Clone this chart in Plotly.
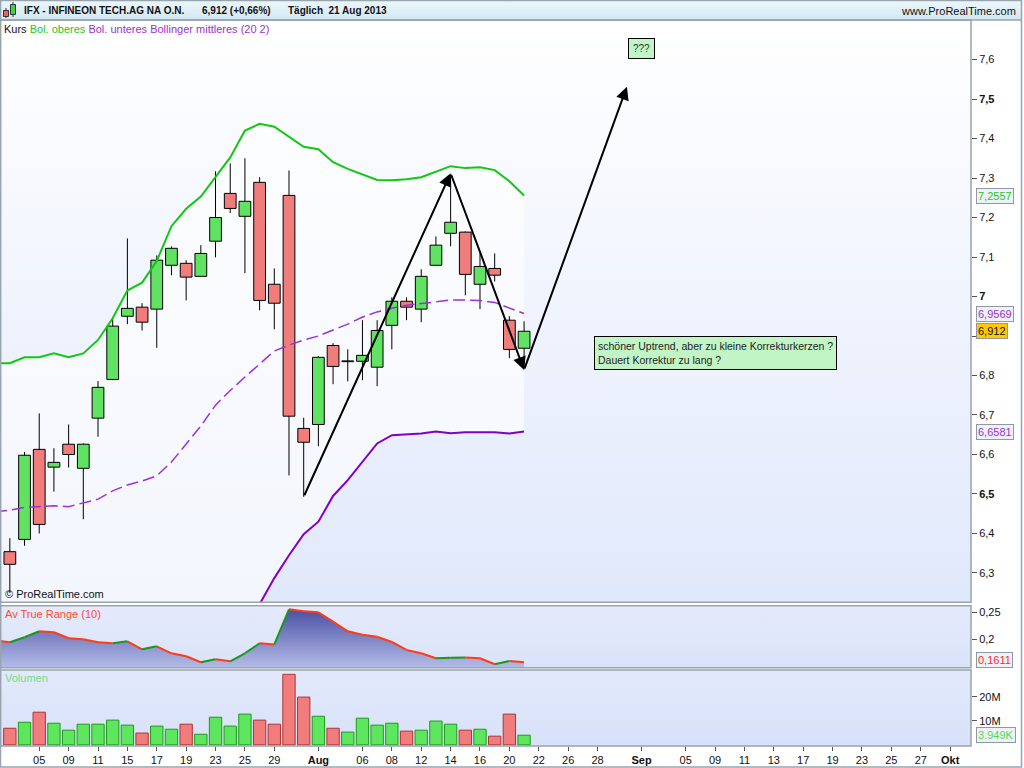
import base64
import pandas as pd
import plotly.graph_objects as go

# ------------------------------------------------------------------ data
candle_dates = pd.bdate_range("2013-07-03", "2013-08-21")
open_ = [6.354, 6.385, 6.613, 6.568, 6.626, 6.565, 6.692, 6.790, 6.950, 6.973,
         6.968, 7.079, 7.084, 7.051, 7.140, 7.261, 7.203, 7.289, 7.031, 7.256,
         6.666, 6.676, 6.876, 6.835, 6.836, 6.821, 6.927, 6.988, 6.968, 7.079,
         7.160, 7.163, 7.031, 7.071, 6.940, 6.869]
high = [6.388, 6.606, 6.704, 6.616, 6.676, 6.628, 6.786, 6.945, 7.147, 6.983,
        7.104, 7.127, 7.092, 7.130, 7.317, 7.337, 7.350, 7.302, 7.071, 7.319,
        6.693, 6.849, 6.882, 6.866, 6.940, 6.940, 6.998, 6.998, 7.069, 7.152,
        7.308, 7.165, 7.109, 7.109, 6.950, 6.937]
low = [6.250, 6.369, 6.400, 6.506, 6.567, 6.436, 6.645, 6.788, 6.930, 6.914,
       6.870, 7.054, 6.990, 7.051, 7.099, 7.211, 7.059, 6.965, 6.917, 6.547,
       6.493, 6.621, 6.778, 6.785, 6.788, 6.773, 6.866, 6.940, 6.935, 7.079,
       7.127, 7.003, 6.968, 7.038, 6.844, 6.816]
close = [6.322, 6.598, 6.423, 6.580, 6.600, 6.626, 6.770, 6.925, 6.970, 6.935,
         7.092, 7.122, 7.049, 7.109, 7.200, 7.223, 7.241, 6.990, 6.983, 6.697,
         6.631, 6.846, 6.823, 6.837, 6.851, 6.914, 6.988, 6.973, 7.051, 7.130,
         7.188, 7.056, 7.076, 7.054, 6.866, 6.912]
volume_m = [6.9, 9.4, 13.6, 9.0, 6.1, 8.6, 8.6, 10.3, 8.2, 4.9,
            7.8, 6.5, 8.6, 4.4, 11.5, 7.8, 12.8, 10.3, 8.6, 29.4,
            19.9, 11.9, 6.9, 5.3, 11.1, 8.2, 9.0, 5.7, 6.1, 9.9,
            8.6, 6.1, 6.5, 3.6, 12.8, 4.0]

line_dates = pd.bdate_range("2013-07-02", "2013-08-21")
atr = [0.198, 0.1944, 0.2037, 0.2148, 0.2130, 0.2019, 0.2000, 0.1944, 0.1926, 0.1963,
       0.1815, 0.1870, 0.1741, 0.1685, 0.1574, 0.1630, 0.1593, 0.1741, 0.1926, 0.1904,
       0.2556, 0.2519, 0.2500, 0.2326, 0.2148, 0.2085, 0.2048, 0.1950, 0.1802, 0.1741,
       0.1648, 0.1660, 0.1662, 0.1648, 0.1537, 0.1598, 0.1575]
bb_upper = [6.831, 6.831, 6.846, 6.846, 6.856, 6.846, 6.856, 6.890, 6.945, 7.015,
            7.035, 7.090, 7.178, 7.222, 7.253, 7.302, 7.352, 7.420, 7.437, 7.430,
            7.405, 7.379, 7.373, 7.340, 7.323, 7.309, 7.295, 7.294, 7.297, 7.302,
            7.317, 7.330, 7.325, 7.327, 7.320, 7.292, 7.2557]
bb_middle = [6.455, 6.459, 6.466, 6.468, 6.470, 6.468, 6.477, 6.487, 6.508, 6.523,
             6.533, 6.546, 6.581, 6.627, 6.672, 6.725, 6.762, 6.796, 6.829, 6.862,
             6.877, 6.890, 6.900, 6.915, 6.930, 6.948, 6.961, 6.970, 6.978, 6.982,
             6.986, 6.991, 6.991, 6.990, 6.985, 6.971, 6.9569]
bb_lower = [6.079, 6.087, 6.086, 6.090, 6.084, 6.090, 6.098, 6.084, 6.071, 6.031,
            6.031, 6.002, 5.984, 6.032, 6.091, 6.148, 6.172, 6.172, 6.221, 6.287,
            6.345, 6.398, 6.430, 6.495, 6.535, 6.581, 6.628, 6.649, 6.651, 6.653,
            6.658, 6.654, 6.656, 6.656, 6.656, 6.653, 6.6581]

tick_dates = ["2013-07-05", "2013-07-09", "2013-07-11", "2013-07-15", "2013-07-17",
              "2013-07-19", "2013-07-23", "2013-07-25", "2013-07-29", "2013-08-01",
              "2013-08-06", "2013-08-08", "2013-08-12", "2013-08-14", "2013-08-16",
              "2013-08-20", "2013-08-22", "2013-08-26", "2013-08-28", "2013-09-02",
              "2013-09-05", "2013-09-09", "2013-09-11", "2013-09-13", "2013-09-17",
              "2013-09-19", "2013-09-23", "2013-09-25", "2013-09-27", "2013-10-01"]
tick_text = ["05", "09", "11", "15", "17", "19", "23", "25", "29", "<b>Aug</b>",
             "06", "08", "12", "14", "16", "20", "22", "26", "28", "<b>Sep</b>",
             "05", "09", "11", "13", "17", "19", "23", "25", "27", "<b>Okt</b>"]
price_ticks = [6.3, 6.4, 6.5, 6.6, 6.7, 6.8, 6.9, 7.0, 7.1, 7.2, 7.3, 7.4, 7.5, 7.6]
# the 6,9 label is hidden behind the last-price box in the reference
price_tick_text = ["6,3", "6,4", "<b>6,5</b>", "6,6", "6,7", "6,8", "", "<b>7</b>",
                   "7,1", "7,2", "7,3", "7,4", "<b>7,5</b>", "7,6"]
atr_ticks = [0.2, 0.25]
atr_tick_text = ["0,2", "0,25"]
vol_ticks = [10, 20]
vol_tick_text = ["10M", "20M"]

trend_path = [("2013-07-31", 6.493), ("2013-08-14", 7.312),
              ("2013-08-21", 6.814), ("2013-08-30", 7.531)]

# ------------------------------------------------------------------ helpers
calendar = pd.bdate_range("2013-07-02", "2013-10-01")
pos = {d: i - 1 for i, d in enumerate(calendar)}
xc = [pos[d] for d in candle_dates]
xl = [pos[d] for d in line_dates]
xt = [pos[pd.Timestamp(d)] for d in tick_dates]

FONT = "Liberation Sans, Arial, sans-serif"
W, H = 1024, 768
ML, MR, MT, MB = 0, 53, 20, 22
PW, PH = W - ML - MR, H - MT - MB
XR = [-0.67, 65.42]
YR = [6.2258, 7.700]
ATR_R = [0.1474, 0.2622]
VOL_R = [-0.5, 31.2]


def py(y):
    return (H - MB - y) / PH


def px(x):
    return x / PW


def grad(top, bottom):
    svg = ('<svg xmlns="http://www.w3.org/2000/svg" width="100" height="100" '
           'viewBox="0 0 100 100" preserveAspectRatio="none"><defs>'
           '<linearGradient id="g" x1="0" y1="0" x2="0" y2="1">'
           f'<stop offset="0" stop-color="{top}"/><stop offset="1" stop-color="{bottom}"/>'
           '</linearGradient></defs><rect width="100" height="100" fill="url(#g)"/></svg>')
    return "data:image/svg+xml;base64," + base64.b64encode(svg.encode()).decode()


fig = go.Figure()

# band fill (base subplot, below candles)
fig.add_trace(go.Scatter(x=xl, y=bb_upper, mode="lines", line=dict(width=0),
                         hoverinfo="skip", xaxis="x", yaxis="y"))
fig.add_trace(go.Scatter(x=xl, y=bb_lower, mode="lines", line=dict(width=0),
                         fill="tonexty", fillcolor="rgba(255,255,255,0.6)",
                         hoverinfo="skip", xaxis="x", yaxis="y"))
# wicks
wx, wy = [], []
for x, lo, hi in zip(xc, low, high):
    wx += [x, x, None]
    wy += [lo, hi, None]
fig.add_trace(go.Scatter(x=wx, y=wy, mode="lines", line=dict(color="black", width=1),
                         hoverinfo="skip", xaxis="x", yaxis="y"))

# candle bodies (overlay subplot)
body_base = [min(o, c) for o, c in zip(open_, close)]
body_h = [max(abs(c - o), 0.0015) for o, c in zip(open_, close)]
body_col = ["#62e262" if c >= o else "#f07c7c" for o, c in zip(open_, close)]
fig.add_trace(go.Bar(x=xc, y=body_h, base=body_base, width=0.8,
                     marker=dict(color=body_col, line=dict(color="black", width=1)),
                     hoverinfo="skip", xaxis="x", yaxis="y4"))
# Bollinger lines
fig.add_trace(go.Scatter(x=xl, y=bb_upper, mode="lines", line=dict(color="#10c810", width=2),
                         hoverinfo="skip", xaxis="x", yaxis="y4"))
fig.add_trace(go.Scatter(x=xl, y=bb_lower, mode="lines", line=dict(color="#8000c8", width=2),
                         hoverinfo="skip", xaxis="x", yaxis="y4"))
fig.add_trace(go.Scatter(x=xl, y=bb_middle, mode="lines",
                         line=dict(color="#9a30e0", width=1.5, dash="12px,5px"),
                         hoverinfo="skip", xaxis="x", yaxis="y4"))

# ATR
fig.add_trace(go.Scatter(x=xl, y=atr, mode="lines", line=dict(width=0), fill="tozeroy",
                         fillgradient=dict(type="vertical", start=ATR_R[0], stop=0.2556,
                                           colorscale=[[0, "#b4bce8"], [1, "#4a50a4"]]),
                         hoverinfo="skip", xaxis="x", yaxis="y2"))
ux, uy, dx_, dy_ = [], [], [], []
for k in range(len(atr) - 1):
    sx, sy = [xl[k], xl[k + 1], None], [atr[k], atr[k + 1], None]
    if atr[k + 1] >= atr[k]:
        ux += sx
        uy += sy
    else:
        dx_ += sx
        dy_ += sy
fig.add_trace(go.Scatter(x=dx_, y=dy_, mode="lines", line=dict(color="#ff3c14", width=2),
                         hoverinfo="skip", xaxis="x", yaxis="y2"))
fig.add_trace(go.Scatter(x=ux, y=uy, mode="lines", line=dict(color="#1e961e", width=2),
                         hoverinfo="skip", xaxis="x", yaxis="y2"))

# Volume
vol_up = [close[i] >= (close[i - 1] if i > 0 else open_[0]) for i in range(len(close))]
fig.add_trace(go.Bar(x=xc, y=volume_m, width=0.84,
                     marker=dict(color=["#5ee65e" if u else "#f07c7c" for u in vol_up],
                                 line=dict(color=["#1e9a1e" if u else "#b03434" for u in vol_up],
                                           width=1)),
                     hoverinfo="skip", xaxis="x", yaxis="y3"))

# ------------------------------------------------------------------ layout
axis_common = dict(showgrid=False, zeroline=False, showline=False, ticks="outside",
                   ticklen=5, tickcolor="#555", tickfont=dict(family=FONT, size=11, color="#111"))

d_price = [py(602.3), 1.0]
d_atr = [py(667.7), py(605.7)]
d_vol = [0.0, py(670)]

fig.update_layout(
    width=W, height=H, margin=dict(l=ML, r=MR, t=MT, b=MB),
    paper_bgcolor="white", plot_bgcolor="rgba(0,0,0,0)",
    showlegend=False, hovermode=False, barmode="overlay",
    font=dict(family=FONT, size=11, color="#111"),
    xaxis=dict(range=XR, anchor="y3", tickvals=xt, ticktext=tick_text, showgrid=False,
               zeroline=False, showline=False, ticks="outside", ticklen=4, tickcolor="#555",
               tickfont=dict(family=FONT, size=11, color="#111")),
    yaxis=dict(domain=d_price, range=YR, side="right", anchor="x",
               tickvals=price_ticks, ticktext=price_tick_text, **axis_common),
    yaxis4=dict(range=YR, overlaying="y", anchor="x", visible=False),
    yaxis2=dict(domain=d_atr, range=ATR_R, side="right", anchor="x",
                tickvals=atr_ticks, ticktext=atr_tick_text, **axis_common),
    yaxis3=dict(domain=d_vol, range=VOL_R, side="right", anchor="x",
                tickvals=vol_ticks, ticktext=vol_tick_text, **axis_common),
)

images = [
    dict(source=grad("#ffffff", "#e0e8fb"), xref="x", yref="y", x=XR[0], y=YR[1],
         sizex=XR[1] - XR[0], sizey=YR[1] - YR[0], xanchor="left", yanchor="top",
         sizing="stretch", layer="below"),
    dict(source=grad("#e4eafb", "#dbe3f9"), xref="x", yref="y2", x=XR[0], y=ATR_R[1],
         sizex=XR[1] - XR[0], sizey=ATR_R[1] - ATR_R[0], xanchor="left", yanchor="top",
         sizing="stretch", layer="below"),
    dict(source=grad("#e2e9fb", "#d8e1f9"), xref="x", yref="y3", x=XR[0], y=VOL_R[1],
         sizex=XR[1] - XR[0], sizey=VOL_R[1] - VOL_R[0], xanchor="left", yanchor="top",
         sizing="stretch", layer="below"),
    dict(source=grad("#eef8fc", "#d2e7f1"), xref="paper", yref="paper", x=0, y=py(0),
         sizex=px(1022), sizey=py(0) - py(20), xanchor="left", yanchor="top",
         sizing="stretch", layer="below"),
]
fig.update_layout(images=images)

BORDER = "#98a4b0"
shapes = [
    dict(type="rect", xref="paper", yref="paper", x0=px(0.5), x1=px(1021.5), y0=py(767), y1=py(0.5),
         line=dict(color=BORDER, width=1.5), fillcolor="rgba(0,0,0,0)"),
    dict(type="line", xref="paper", yref="paper", x0=0, x1=px(1022), y0=py(20), y1=py(20),
         line=dict(color=BORDER, width=1.5)),
    dict(type="rect", xref="paper", yref="y domain", x0=px(0.5), x1=1, y0=0, y1=1,
         line=dict(color=BORDER, width=1.5)),
    dict(type="rect", xref="paper", yref="y2 domain", x0=px(0.5), x1=1, y0=0, y1=1,
         line=dict(color=BORDER, width=1.5)),
    dict(type="rect", xref="paper", yref="y3 domain", x0=px(0.5), x1=1, y0=0, y1=1,
         line=dict(color=BORDER, width=1.5)),
    # header icon
    dict(type="line", xref="paper", yref="paper", x0=px(6), x1=px(6), y0=py(18), y1=py(8),
         line=dict(color="#333", width=1)),
    dict(type="rect", xref="paper", yref="paper", x0=px(3.5), x1=px(8.5), y0=py(16.5), y1=py(10.5),
         fillcolor="#e86464", line=dict(color="#333", width=1)),
    dict(type="line", xref="paper", yref="paper", x0=px(13), x1=px(13), y0=py(17), y1=py(2),
         line=dict(color="#333", width=1)),
    dict(type="rect", xref="paper", yref="paper", x0=px(10.5), x1=px(15.5), y0=py(14.5), y1=py(4.5),
         fillcolor="#44d044", line=dict(color="#333", width=1)),
]
fig.update_layout(shapes=shapes)

ann = []
hdr_y = py(11)
for txt, x in [("IFX - INFINEON TECH.AG NA O.N.", 22), ("6,912 (+0,66%)", 200),
               ("Täglich  21 Aug 2013", 286)]:
    ann.append(dict(text=f"<b>{txt}</b>", xref="paper", yref="paper", x=px(x), y=hdr_y,
                    xanchor="left", yanchor="middle", showarrow=False,
                    font=dict(family=FONT, size=10, color="#111")))
ann.append(dict(text="www.ProRealTime.com", xref="paper", yref="paper", x=px(1018), y=hdr_y,
                xanchor="right", yanchor="middle", showarrow=False,
                font=dict(family=FONT, size=11, color="#111")))
ann.append(dict(text="Kurs <span style='color:#22c822'>Bol. oberes</span> "
                     "<span style='color:#9933cc'>Bol. unteres Bollinger mittleres (20 2)</span>",
                xref="paper", yref="paper", x=px(2), y=py(29), xanchor="left", yanchor="middle",
                showarrow=False, font=dict(family=FONT, size=11, color="#111")))
ann.append(dict(text="© ProRealTime.com", xref="paper", yref="y domain", x=px(3), y=0,
                xanchor="left", yanchor="bottom", showarrow=False,
                font=dict(family=FONT, size=11, color="#111")))
ann.append(dict(text="Av True Range (10)", xref="paper", yref="y2 domain", x=px(3), y=1,
                xanchor="left", yanchor="top", showarrow=False,
                font=dict(family=FONT, size=11, color="#ff4a34")))
ann.append(dict(text="Volumen", xref="paper", yref="y3 domain", x=px(3), y=1,
                xanchor="left", yanchor="top", showarrow=False,
                font=dict(family=FONT, size=11, color="#6ede88")))

# value boxes on the right
for txt, yref, yv, col, bg in [
    ("7,2557", "y", bb_upper[-1], "#22c822", "#eef2f8"),
    ("6,9569", "y", bb_middle[-1], "#9933cc", "#eef2f8"),
    ("6,912", "y", close[-1], "#111", "#ffc800"),
    ("6,6581", "y", bb_lower[-1], "#9933cc", "#eef2f8"),
    ("0,1611", "y2", 0.1611, "#ff2a2a", "#eef2f8"),
    ("3.949K", "y3", volume_m[-1], "#55d855", "#eef2f8"),
]:
    ann.append(dict(text=txt, xref="paper", yref=yref, x=1, y=yv, xanchor="left",
                    yanchor="middle", xshift=5, showarrow=False, bgcolor=bg,
                    bordercolor="#8e99a4", borderwidth=1, borderpad=1,
                    font=dict(family=FONT, size=11, color=col)))

# hand drawn trend arrows
for (d0, v0), (d1, v1) in zip(trend_path[:-1], trend_path[1:]):
    ann.append(dict(text="", x=pos[pd.Timestamp(d1)], y=v1, ax=pos[pd.Timestamp(d0)], ay=v0,
                    xref="x", yref="y", axref="x", ayref="y", showarrow=True,
                    arrowhead=2, arrowsize=1.3, arrowwidth=2, arrowcolor="black", standoff=0))

# note boxes
ann.append(dict(text="???", xref="x", yref="y", x=pos[pd.Timestamp("2013-09-02")], y=7.627,
                showarrow=False, bgcolor="#c2f5c6", bordercolor="black", borderwidth=1,
                borderpad=4, font=dict(family=FONT, size=10, color="#333")))
ann.append(dict(text="schöner Uptrend, aber zu kleine Korrekturkerzen ?<br>Dauert Korrektur zu lang ?",
                xref="x", yref="y", x=pos[pd.Timestamp("2013-09-09")], y=6.857, align="left",
                showarrow=False, bgcolor="#c2f5c6", bordercolor="black", borderwidth=1,
                borderpad=3, font=dict(family=FONT, size=10.5, color="#222")))
fig.update_layout(annotations=ann)

fig.write_html("out.html", config={"displayModeBar": False},
               post_script="document.body.style.margin='0';document.body.style.overflow='hidden';")
